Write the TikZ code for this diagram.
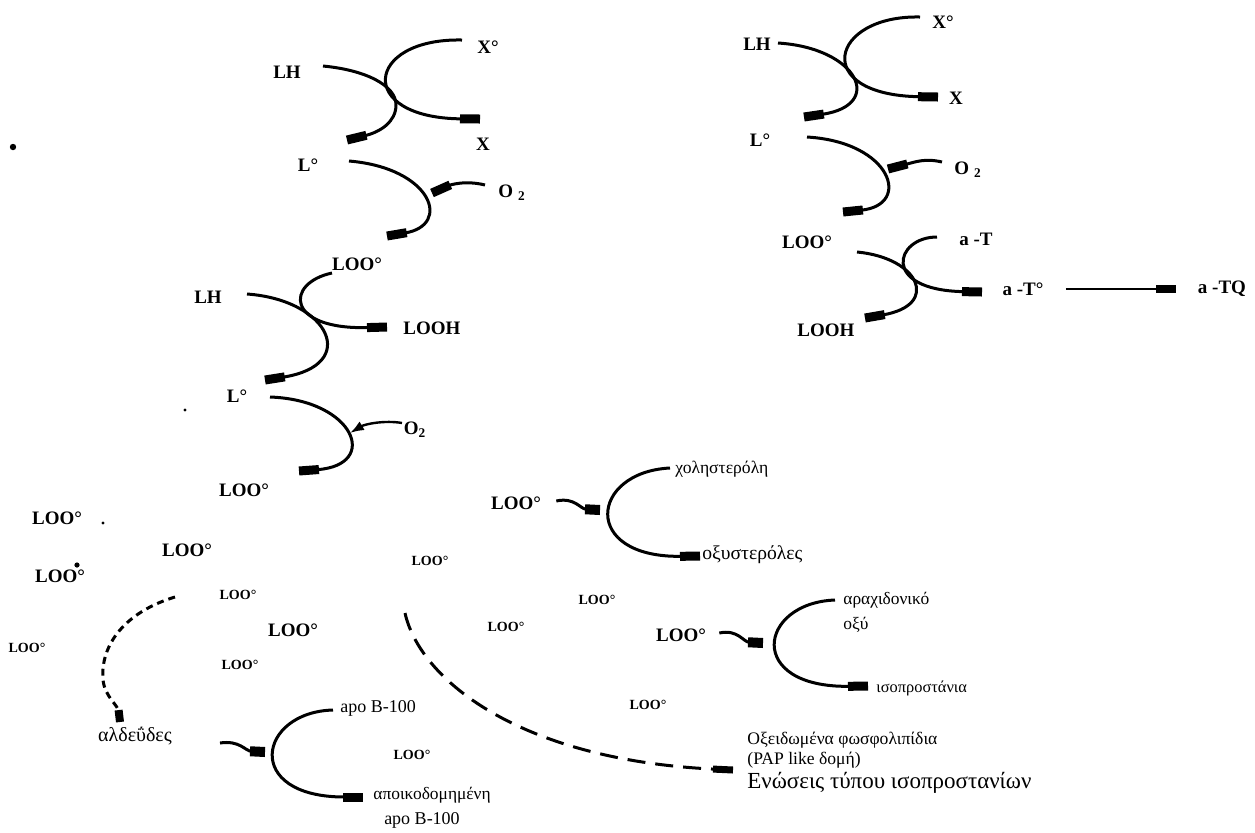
\documentclass[tikz,border=0pt]{standalone}
\usepackage{fontspec}
\setmainfont{Liberation Serif}
\usetikzlibrary{arrows.meta}

\begin{document}
\begin{tikzpicture}[x=0.5pt,y=-0.5pt,
    rx/.style={line width=1.5pt, -{Rectangle[length=10pt,width=4.5pt]}},
    rq/.style={line width=1.5pt, -{Rectangle[length=7.5pt,width=5pt]}},
    lb/.style={font=\fontsize{9.5}{11}\selectfont\bfseries, inner sep=0pt},
    sl/.style={font=\fontsize{7}{8}\selectfont\bfseries, inner sep=0pt},
    gr/.style={font=\fontsize{9}{11}\selectfont, inner sep=0pt, anchor=west}
]
\path[fill=white, use as bounding box] (0,0) rectangle (1255,832);

\node[lb] (lh1) at (287,72) {LH};
\node[lb] (xr1) at (488,47) {X°};
\node[lb] (x1) at (483,144) {X};
\node[lb] (l1) at (308,165) {L°};
\node[lb] (o21) at (512,193) {O\hspace{2.5pt}\textsubscript{2}};
\node[lb] (loo1) at (357,264) {LOO°};
\node[lb] (lh2) at (208,297) {LH};
\node[lb] (looh1) at (432,328) {LOOH};
\node[lb] (l2) at (237,396) {L°};
\node[lb] (o22) at (415,430) {O\textsubscript{2}};
\node[lb] (loo2) at (244,490) {LOO°};

\draw[rx] (323,66) .. controls (365,70) and (396,85) .. (396,105) .. controls (396,122) and (380,132) .. (347,140);
\draw[rx] (462,40) .. controls (365,38) and (355,118) .. (480,119);
\draw[rx] (349,161) .. controls (432,168) and (452,225) .. (387,236);
\draw[rx] (485,185) .. controls (465,180) and (450,185) .. (432,193);
\draw[rx] (332,273) .. controls (285,283) and (285,330) .. (387,327);
\draw[rx] (247,294) .. controls (330,300) and (360,365) .. (265,380);
\draw[rx] (270,397) .. controls (355,400) and (380,465) .. (299,471);
\draw[line width=1.2pt, -{Latex[length=7pt,width=5pt]}] (402,423) .. controls (385,420) and (365,424) .. (350,433);

\node[lb] (lh3) at (757,44) {LH};
\node[lb] (xr2) at (943,22) {X°};
\node[lb] (x2) at (956,98) {X};
\node[lb] (l3) at (760,140) {L°};
\node[lb] (o23) at (968,170) {O\hspace{2.5pt}\textsubscript{2}};
\node[lb] (loo3) at (807,242) {LOO°};
\node[lb] (at) at (976,239) {a -T};
\node[lb] (atr) at (1023,289) {a -T°};
\node[lb] (atq) at (1222,289) {a -TQ};
\node[lb] (looh2) at (826,330) {LOOH};

\draw[rx] (778,43) .. controls (858,48) and (885,105) .. (804,117);
\draw[rx] (920,17) .. controls (830,15) and (810,95) .. (938,97);
\draw[rx] (807,137) .. controls (892,142) and (912,205) .. (843,212);
\draw[rx] (942,162) .. controls (925,158) and (915,162) .. (888,169);
\draw[rx] (857,252) .. controls (920,258) and (940,305) .. (865,318);
\draw[rx] (937,237) .. controls (895,237) and (880,290) .. (982,292);
\draw[line width=1pt, -{Rectangle[length=10pt,width=4pt]}] ([xshift=11pt]atr.east) -- ([xshift=-11pt]atq.west);

\fill (13,147) circle (1.6pt);
\fill (185,410) circle (0.8pt);
\fill (103,523) circle (0.8pt);
\fill (77,565) circle (1.3pt);

\node[lb] (a1) at (57,518) {LOO°};
\node[lb] (a2) at (187,550) {LOO°};
\node[lb] (a3) at (60,576) {LOO°};
\node[lb] (a4) at (293,630) {LOO°};
\node[lb] (a5) at (516,503) {LOO°};
\node[lb] (a6) at (681,635) {LOO°};
\node[sl] (b1) at (430,561) {LOO°};
\node[sl] (b2) at (238,595) {LOO°};
\node[sl] (b3) at (27,648) {LOO°};
\node[sl] (b4) at (240,665) {LOO°};
\node[sl] (b5) at (597,600) {LOO°};
\node[sl] (b6) at (506,627) {LOO°};
\node[sl] (b7) at (648,705) {LOO°};
\node[sl] (b8) at (412,755) {LOO°};

\node[gr, font=\fontsize{8.8}{10}\selectfont] (chol) at (675,469) {χοληστερόλη};
\node[gr, font=\fontsize{9.8}{11}\selectfont] (oxy) at (702,555) {οξυστερόλες};
\node[gr, font=\fontsize{8.7}{10}\selectfont] (arach) at (843,600) {αραχιδονικό};
\node[gr, font=\fontsize{8.7}{10}\selectfont] (oxu) at (843,625) {οξύ};
\node[gr, font=\fontsize{8.2}{10}\selectfont] (iso) at (876,688) {ισοπροστάνια};
\node[font=\fontsize{10}{12}\selectfont, inner sep=0pt] (ald) at (135,736) {αλδεΰδες};
\node[gr] (apo1) at (340,708) {apo B-100};
\node[gr, font=\fontsize{8.7}{10}\selectfont] (apod) at (373,795) {αποικοδομημένη};
\node[font=\fontsize{9}{11}\selectfont, inner sep=0pt] (apo2) at (422,820) {apo B-100};
\node[gr, font=\fontsize{8.8}{10}\selectfont] (oxp) at (747,740) {Οξειδωμένα φωσφολιπίδια};
\node[gr, font=\fontsize{8.8}{10}\selectfont] (pap) at (747,760) {(PAP like δομή)};
\node[gr, font=\fontsize{11.5}{13}\selectfont] (enw) at (747,783) {Ενώσεις τύπου ισοπροστανίων};

\draw[rq] (a5.east) ++(15,-2) .. controls (575,497) and (580,509) .. (600,510);
\draw[rx] (670,468) .. controls (590,472) and (580,558) .. (700,556);
\draw[rq] (a6.east) ++(13,-2) .. controls (738,629) and (743,642) .. (763,643);
\draw[rx] (835,600) .. controls (758,603) and (745,688) .. (868,686);
\draw[rq] (220,743) .. controls (240,740) and (245,751) .. (265,752);
\draw[rx] (333,710) .. controls (258,712) and (242,797) .. (363,797);
\draw[line width=1.5pt, dash pattern=on 3.5pt off 2.5pt, -{Rectangle[length=6pt,width=4pt]}] (175,597) .. controls (125,612) and (100,645) .. (103,680) .. controls (105,697) and (118,705) .. (120,722);
\draw[line width=1.5pt, dash pattern=on 9pt off 5pt, -{Rectangle[length=10pt,width=3.5pt]}] (405,613) .. controls (420,680) and (520,760) .. (733,770);
\end{tikzpicture}
\end{document}
